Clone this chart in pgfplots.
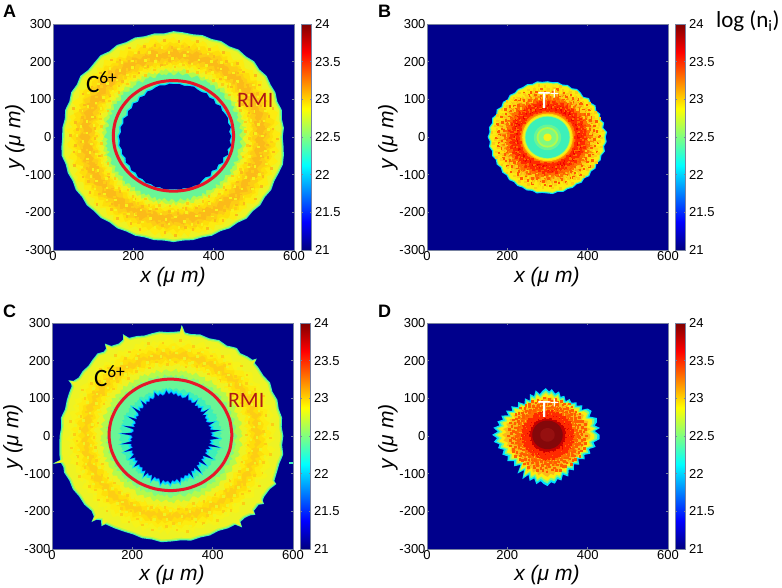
\documentclass[border=0pt]{standalone}
\usepackage{fontspec}
\setmainfont{Liberation Sans}
\newfontfamily\carl{Carlito}
\usepackage{pgfplots}
\usepackage{pgfplotstable}
\pgfplotsset{compat=1.18}

% colours read off the jet scale, named by log value
\definecolor{j21}{RGB}{0,0,140}
\definecolor{j2170}{RGB}{0,110,255}
\definecolor{j2200}{RGB}{0,225,255}
\definecolor{j2225}{RGB}{60,240,185}
\definecolor{j2240}{RGB}{105,245,150}
\definecolor{j2250}{RGB}{128,250,128}
\definecolor{j2265}{RGB}{179,250,77}
\definecolor{yel}{RGB}{238,243,35}
\definecolor{j2285}{RGB}{246,243,25}
\definecolor{j2290}{RGB}{253,236,15}
\definecolor{j2300}{RGB}{254,222,10}
\definecolor{j2305}{RGB}{253,205,20}
\definecolor{j2310}{RGB}{251,186,25}
\definecolor{j2320}{RGB}{255,140,0}
\definecolor{j2328}{RGB}{255,112,0}
\definecolor{j2335}{RGB}{255,93,0}
\definecolor{j2350}{RGB}{255,42,0}
\definecolor{j2365}{RGB}{240,0,0}
\definecolor{j2380}{RGB}{195,0,0}
\definecolor{j2395}{RGB}{132,8,10}
\definecolor{j2399}{RGB}{150,16,16}
\definecolor{ringred}{RGB}{230,22,42}
\definecolor{rmi}{RGB}{176,24,24}
\definecolor{frame}{RGB}{120,130,160}

\newcommand{\tickfont}{\fontsize{13}{13}\selectfont}
\newcommand{\lab}{\fontsize{21}{21}\selectfont\itshape}

% boundaries as angle (deg) / radius (um) around the ring centre
\pgfplotstableread[row sep=\\]{a r\\
0 272\\5 276\\10 274\\15 279\\20 275\\25 280\\30 279\\35 283\\40 279\\45 284\\50 280\\55 283\\60 278\\65 281\\70 277\\75 280\\80 277\\85 279\\90 281\\95 276\\100 279\\105 277\\110 281\\115 278\\120 282\\125 278\\130 283\\135 279\\140 277\\145 283\\150 278\\155 281\\160 276\\165 279\\170 275\\175 278\\180 277\\185 280\\190 283\\195 278\\200 280\\205 277\\210 281\\215 278\\220 282\\225 279\\230 281\\235 277\\240 280\\245 277\\250 279\\255 276\\260 278\\265 276\\270 279\\275 276\\280 278\\285 276\\290 279\\295 276\\300 280\\305 278\\310 283\\315 279\\320 282\\325 278\\330 281\\335 277\\340 279\\345 282\\350 279\\355 275\\
}\Aout
\pgfplotstableread[row sep=\\]{a r\\
0 141\\5 136\\10 142\\15 137\\20 141\\25 139\\30 136\\35 140\\40 133\\45 138\\50 134\\55 139\\60 135\\65 136\\70 140\\75 138\\80 136\\85 139\\90 138\\95 140\\100 137\\105 140\\110 138\\115 135\\120 137\\125 131\\130 135\\135 129\\140 135\\145 130\\150 134\\155 129\\160 136\\165 132\\170 137\\175 134\\180 139\\185 137\\190 140\\195 136\\200 139\\205 135\\210 140\\215 136\\220 141\\225 137\\230 142\\235 139\\240 143\\245 140\\250 143\\255 140\\260 144\\265 141\\270 140\\275 142\\280 139\\285 143\\290 140\\295 142\\300 136\\305 133\\310 138\\315 130\\320 136\\325 132\\330 139\\335 133\\340 142\\345 136\\350 143\\355 137\\
}\Ahole
\pgfplotstableread[row sep=\\]{a r\\
0 279\\5 276\\10 280\\15 277\\20 281\\25 278\\30 284\\35 280\\40 283\\43 284\\44 296\\45 286\\48 284\\52 279\\55 285\\57 282\\60 277\\65 281\\70 276\\75 279\\80 275\\83 277\\84.5 292\\85 296\\85.5 279\\88 277\\92 276\\96 279\\100 277\\104 275\\108 279\\112 281\\114 296\\115 283\\118 278\\122 282\\124 296\\125 283\\127 280\\130 286\\134 282\\138 278\\142 280\\146 278\\149 284\\150 296\\151 285\\152 281\\156 279\\160 277\\165 274\\170 279\\175 275\\180 278\\185 280\\190 283\\193 284\\194 305\\194.5 284\\197 281\\200 284\\205 280\\210 283\\215 280\\220 283\\225 281\\228 288\\229 303\\230 290\\232 284\\234 296\\235 286\\240 283\\245 280\\250 278\\255 281\\260 279\\265 283\\270 280\\275 278\\280 282\\285 279\\290 281\\295 278\\300 283\\304 284\\306 300\\307 286\\310 284\\313 288\\315 296\\316 286\\320 284\\322 293\\323 285\\325 282\\330 283\\334 291\\335 283\\340 280\\345 279\\350 283\\355 277\\
}\Cout
\pgfplotstableread[row sep=\\]{a r\\
0 100\\3 104\\5 98\\7 125\\8 110\\10 99\\13 103\\16 97\\19 115\\20 103\\23 95\\26 100\\29 97\\32 104\\35 96\\37 118\\38 104\\41 98\\44 107\\47 100\\50 104\\53 99\\55 116\\56 106\\59 102\\62 107\\65 104\\68 118\\70 108\\74 104\\77 110\\80 106\\83 113\\86 109\\89 116\\92 110\\95 120\\97 112\\100 108\\103 114\\106 109\\109 121\\111 110\\114 106\\117 112\\120 104\\123 108\\126 102\\128 118\\130 104\\133 100\\136 106\\139 98\\141 121\\143 100\\146 95\\149 99\\152 94\\154 116\\156 96\\159 92\\162 96\\165 91\\167 119\\169 94\\172 92\\175 96\\177 123\\179 97\\182 94\\185 99\\188 96\\190 124\\192 99\\195 101\\198 98\\200 122\\202 101\\205 105\\208 102\\211 117\\213 104\\216 108\\219 104\\222 121\\224 107\\227 111\\230 108\\233 116\\236 110\\238 126\\240 112\\243 117\\246 112\\248 127\\250 114\\253 118\\256 115\\259 129\\261 117\\264 122\\267 118\\270 126\\272 117\\275 120\\278 114\\281 125\\283 112\\286 116\\289 109\\292 113\\295 107\\297 123\\299 105\\302 109\\305 102\\308 124\\310 100\\313 104\\316 97\\319 118\\321 97\\324 101\\327 95\\330 121\\332 96\\335 99\\338 94\\341 104\\344 96\\346 126\\348 98\\351 102\\354 97\\357 120\\
}\Chole
\pgfplotstableread[row sep=\\]{a r\\
0 145\\5 149\\10 141\\15 146\\20 139\\25 145\\30 140\\35 146\\40 141\\45 146\\50 139\\55 144\\60 147\\65 143\\70 147\\75 144\\80 148\\85 146\\90 148\\95 147\\100 150\\105 146\\110 149\\115 146\\120 147\\125 143\\130 146\\135 141\\140 145\\145 140\\150 146\\155 141\\160 147\\165 143\\170 148\\175 145\\180 149\\185 144\\190 148\\195 143\\200 147\\205 142\\210 146\\215 142\\220 147\\225 144\\230 149\\235 146\\240 150\\245 148\\250 151\\255 148\\260 152\\265 149\\270 150\\275 152\\280 148\\285 151\\290 147\\295 149\\300 145\\305 148\\310 143\\315 147\\320 142\\325 146\\330 141\\335 146\\340 143\\345 148\\350 143\\355 148\\
}\Bout
\pgfplotstableread[row sep=\\]{a r\\
0 130\\5 118\\8 132\\12 120\\15 127\\20 131\\25 115\\30 127\\35 122\\38 108\\42 117\\47 106\\50 113\\55 104\\60 110\\63 100\\68 112\\72 106\\76 119\\80 111\\85 122\\88 115\\92 124\\96 118\\100 110\\104 122\\108 108\\112 117\\116 101\\120 112\\125 100\\130 114\\135 104\\140 118\\144 108\\148 122\\152 110\\156 126\\160 118\\164 130\\168 122\\172 136\\176 124\\180 138\\184 126\\188 135\\192 122\\196 128\\200 116\\205 124\\210 114\\215 122\\220 108\\225 118\\230 104\\234 127\\238 110\\242 133\\246 116\\250 130\\254 120\\258 134\\262 124\\266 131\\270 136\\274 126\\278 131\\282 120\\286 126\\290 112\\295 122\\300 106\\305 115\\310 102\\315 112\\320 100\\325 113\\330 106\\335 118\\340 110\\345 124\\350 116\\355 130\\
}\Dout
% rough band edge, radius in percent of the band's mean radius
\pgfplotstableread[row sep=\\]{a r\\
0 100\\2 102\\4 99\\6 98\\8 101\\10 103\\12 100\\14 97\\16 99\\18 102\\20 101\\22 98\\24 100\\26 103\\28 99\\30 97\\32 101\\34 102\\36 98\\38 100\\40 99\\42 103\\44 101\\46 97\\48 98\\50 102\\52 100\\54 101\\56 99\\58 97\\60 102\\62 103\\64 99\\66 100\\68 98\\70 101\\72 97\\74 99\\76 103\\78 100\\80 102\\82 98\\84 97\\86 101\\88 99\\90 103\\92 100\\94 98\\96 102\\98 97\\100 101\\102 99\\104 100\\106 103\\108 98\\110 97\\112 102\\114 100\\116 99\\118 101\\120 103\\122 97\\124 100\\126 98\\128 102\\130 99\\132 101\\134 97\\136 103\\138 100\\140 98\\142 99\\144 102\\146 101\\148 97\\150 100\\152 103\\154 98\\156 101\\158 99\\160 97\\162 102\\164 100\\166 103\\168 98\\170 99\\172 101\\174 97\\176 102\\178 100\\180 98\\182 103\\184 99\\186 101\\188 97\\190 100\\192 102\\194 98\\196 103\\198 99\\200 101\\202 97\\204 100\\206 102\\208 98\\210 99\\212 103\\214 101\\216 97\\218 100\\220 102\\222 98\\224 103\\226 99\\228 97\\230 101\\232 100\\234 102\\236 98\\238 103\\240 97\\242 99\\244 101\\246 100\\248 102\\250 97\\252 103\\254 98\\256 100\\258 101\\260 99\\262 97\\264 102\\266 103\\268 98\\270 100\\272 99\\274 101\\276 97\\278 102\\280 103\\282 99\\284 100\\286 98\\288 97\\290 101\\292 103\\294 100\\296 98\\298 102\\300 99\\302 97\\304 101\\306 103\\308 98\\310 100\\312 102\\314 99\\316 97\\318 101\\320 100\\322 103\\324 98\\326 97\\328 102\\330 99\\332 101\\334 103\\336 100\\338 97\\340 98\\342 102\\344 101\\346 99\\348 103\\350 97\\352 100\\354 102\\356 98\\358 101\\
}\Nrough
% streaky edge for the T+ blobs, same idea with more amplitude
\pgfplotstableread[row sep=\\]{a r\\
0 92\\2 108\\4 97\\6 115\\8 88\\10 103\\12 110\\14 94\\16 85\\18 106\\20 99\\22 113\\24 90\\26 102\\28 116\\30 95\\32 87\\34 109\\36 104\\38 92\\40 112\\42 86\\44 100\\46 107\\48 93\\50 114\\52 89\\54 105\\56 98\\58 111\\60 85\\62 103\\64 95\\66 116\\68 90\\70 108\\72 101\\74 87\\76 113\\78 96\\80 106\\82 91\\84 115\\86 99\\88 86\\90 110\\92 104\\94 93\\96 112\\98 88\\100 107\\102 97\\104 116\\106 85\\108 102\\110 94\\112 109\\114 90\\116 114\\118 100\\120 87\\122 105\\124 96\\126 111\\128 92\\130 103\\132 115\\134 86\\136 108\\138 98\\140 89\\142 113\\144 101\\146 94\\148 106\\150 85\\152 116\\154 91\\156 104\\158 99\\160 110\\162 88\\164 107\\166 95\\168 114\\170 87\\172 102\\174 109\\176 93\\178 112\\180 90\\182 105\\184 85\\186 115\\188 97\\190 103\\192 92\\194 111\\196 88\\198 108\\200 100\\202 86\\204 113\\206 95\\208 106\\210 90\\212 116\\214 98\\216 87\\218 104\\220 110\\222 93\\224 101\\226 114\\228 85\\230 107\\232 96\\234 112\\236 89\\238 103\\240 115\\242 91\\244 100\\246 86\\248 109\\250 94\\252 105\\254 113\\256 88\\258 97\\260 116\\262 90\\264 102\\266 107\\268 85\\270 111\\272 95\\274 104\\276 87\\278 114\\280 92\\282 99\\284 108\\286 86\\288 112\\290 96\\292 103\\294 89\\296 115\\298 93\\300 106\\302 85\\304 110\\306 101\\308 91\\310 116\\312 88\\314 105\\316 97\\318 113\\320 86\\322 102\\324 109\\326 94\\328 90\\330 114\\332 100\\334 87\\336 107\\338 96\\340 112\\342 85\\344 104\\346 92\\348 115\\350 98\\352 89\\354 110\\356 103\\358 94\\
}\Kstreak
\pgfplotstableread[row sep=\\]{a r\\
0 1\\10 1\\20 1\\30 1\\40 1\\50 1\\60 1\\70 1\\80 1\\90 1\\100 1\\110 1\\120 1\\130 1\\140 1\\150 1\\160 1\\170 1\\180 1\\190 1\\200 1\\210 1\\220 1\\230 1\\240 1\\250 1\\260 1\\270 1\\280 1\\290 1\\300 1\\310 1\\320 1\\330 1\\340 1\\350 1\\
}\Unit

% \layer[rotation]{colour}{table}{cx}{cy}{factor}
\newcommand{\layer}[6][0]{\addplot[draw=none,fill=#2] table[x expr={#4+#6*\thisrow{r}*cos(\thisrow{a}+#1)},y expr={#5+#6*\thisrow{r}*sin(\thisrow{a}+#1)}] {#3};}
% \speck[rotation]{colour}{cx}{cy}{factor}: mottling of the density
\newcommand{\speck}[5][0]{\addplot[color=#2,only marks,mark=square*,mark size=.8pt] table[x expr={#3+#5*\thisrow{r}*cos(\thisrow{a}+#1)},y expr={#4+#5*\thisrow{r}*sin(\thisrow{a}+#1)}] {\Kstreak};}

\pgfplotsset{panel/.style={
  scale only axis, width=241pt, height=226pt,
  xmin=0, xmax=600, ymin=-300, ymax=300,
  xtick={0,200,400,600}, ytick={-300,-200,-100,0,100,200,300},
  xticklabels={0,200,400,600},
  yticklabels={-300,-200,-100,0,100,200,300},
  tick align=inside, major tick length=2pt,
  tick style={frame,line width=.4pt},
  axis line style={frame,line width=.5pt},
  tick label style={font=\tickfont},
  xticklabel style={yshift=2pt}, yticklabel style={xshift=2pt},
  axis background/.style={fill=j21}, axis on top,
  colormap/jet, point meta min=21, point meta max=24,
  colorbar,
  colorbar style={
    width=10pt, xshift=-15pt,
    ytick={21,21.5,22,22.5,23,23.5,24},
    yticklabels={21,21.5,22,22.5,23,23.5,24},
    tick align=inside, major tick length=1.5pt,
    tick label style={font=\tickfont},
    yticklabel style={xshift=0pt},
    axis line style={frame,line width=.5pt}},
}}

\begin{document}
\begin{tikzpicture}
\path[use as bounding box] (0,0) rectangle (782pt,588pt);

% A
\begin{axis}[panel, anchor=south west, at={(53pt,338pt)}]
\layer{j2225}{\Aout}{300}{0}{1}
\layer{j2265}{\Aout}{300}{0}{.99}
\layer{yel}{\Aout}{300}{0}{.975}
\layer[40]{j2290}{\Nrough}{300}{0}{2.6}
\layer[90]{j2300}{\Nrough}{300}{0}{2.48}
\layer[130]{j2305}{\Nrough}{300}{0}{2.38}
\layer[170]{j2310}{\Nrough}{300}{0}{2.28}
\layer[210]{j2305}{\Nrough}{300}{0}{2.08}
\layer[250]{j2300}{\Nrough}{300}{0}{2}
\layer[290]{j2290}{\Nrough}{300}{0}{1.93}
\speck[11]{j2310}{300}{0}{2.25}
\speck[47]{j2285}{300}{0}{2.1}
\speck[97]{j2305}{300}{0}{2.1}
\layer[330]{yel}{\Nrough}{300}{0}{1.86}
\layer[20]{j2265}{\Nrough}{300}{0}{1.77}
\layer[60]{j2240}{\Nrough}{300}{0}{1.68}
\layer{j2200}{\Ahole}{303}{2}{1.03}
\layer{j21}{\Ahole}{303}{2}{1}
\addplot[ringred,line width=3pt,smooth] coordinates {(450,3)(444.9,41)(429.9,76.5)(406.1,106.9)(375,130.3)(338.8,145)(300,150)(261.2,145)(225,130.3)(193.9,106.9)(170.1,76.5)(155.1,41)(150,3)(155.1,-35)(170.1,-70.5)(193.9,-100.9)(225,-124.3)(261.2,-139)(300,-144)(338.8,-139)(375,-124.3)(406.1,-100.9)(429.9,-70.5)(444.9,-35)(450,3)};
\end{axis}

% B
\begin{axis}[panel, anchor=south west, at={(427pt,338pt)}]
\layer{j2200}{\Bout}{300}{0}{1}
\layer{j2265}{\Bout}{300}{0}{.98}
\layer{j2290}{\Bout}{300}{0}{.96}
\layer{j2300}{\Kstreak}{300}{0}{1.22}
\layer[50]{j2310}{\Kstreak}{300}{0}{1.16}
\layer[100]{j2320}{\Kstreak}{300}{0}{1.08}
\layer[150]{j2335}{\Kstreak}{300}{0}{1}
\layer[200]{j2350}{\Kstreak}{300}{0}{.93}
\layer[250]{j2365}{\Kstreak}{300}{0}{.83}
\speck[13]{j2335}{300}{0}{1.12}
\speck[71]{j2305}{300}{0}{1.2}
\speck[29]{j2328}{300}{0}{.92}
\speck[131]{j2350}{300}{0}{.82}
\layer{j2350}{\Unit}{300}{-1}{74}
\layer{j2328}{\Unit}{300}{-1}{70}
\layer{j2320}{\Unit}{300}{-1}{66}
\layer{j2300}{\Unit}{300}{-1}{63}
\layer{j2285}{\Unit}{300}{-1}{60}
\layer{j2265}{\Unit}{300}{-1}{57}
\layer{j2225}{\Unit}{300}{-1}{55}
\layer{j2240}{\Unit}{300}{-1}{34}
\layer{j2265}{\Unit}{300}{-1}{27}
\layer{j2250}{\Unit}{300}{-1}{22}
\layer{j2285}{\Unit}{300}{-1}{10}
\end{axis}

% C
\begin{axis}[panel, anchor=south west, at={(52pt,39pt)}]
\layer{j2225}{\Cout}{297}{0}{1}
\layer{j2265}{\Cout}{297}{0}{.99}
\layer{yel}{\Cout}{297}{0}{.975}
\layer[30]{j2285}{\Nrough}{297}{0}{2.55}
\layer[70]{j2290}{\Nrough}{297}{0}{2.42}
\layer[110]{j2300}{\Nrough}{297}{0}{2.3}
\layer[150]{j2305}{\Nrough}{297}{0}{2.2}
\layer[190]{j2300}{\Nrough}{297}{0}{2.07}
\layer[230]{j2290}{\Nrough}{297}{0}{1.97}
\speck[19]{j2305}{297}{0}{2.2}
\speck[77]{yel}{297}{0}{2.15}
\layer[270]{yel}{\Nrough}{297}{0}{1.88}
\layer[310]{j2265}{\Nrough}{297}{0}{1.74}
\layer[350]{j2250}{\Nrough}{297}{0}{1.6}
\layer[25]{j2240}{\Nrough}{295}{0}{1.5}
\layer[65]{j2225}{\Nrough}{295}{0}{1.25}
\layer{j2200}{\Chole}{295}{0}{1.07}
\layer{j2170}{\Chole}{295}{0}{1.02}
\layer{j21}{\Chole}{295}{0}{1}
\addplot[draw=none,fill=j2225] coordinates {(591,-70)(600,-70)(600,-75)(591,-75)};
\addplot[ringred,line width=3pt,smooth] coordinates {(448,3)(442.8,41.3)(427.5,77)(403.2,107.7)(371.5,131.2)(334.6,146)(295,151)(255.4,146)(218.5,131.2)(186.8,107.7)(162.5,77)(147.2,41.3)(142,3)(147.2,-35.3)(162.5,-71)(186.8,-101.7)(218.5,-125.2)(255.4,-140)(295,-145)(334.6,-140)(371.5,-125.2)(403.2,-101.7)(427.5,-71)(442.8,-35.3)(448,3)};
\end{axis}

% D
\begin{axis}[panel, anchor=south west, at={(427pt,39pt)}]
\layer{j2200}{\Dout}{300}{3}{1}
\layer{j2250}{\Dout}{300}{3}{.95}
\layer{j2290}{\Dout}{300}{3}{.9}
\layer{j2310}{\Dout}{300}{3}{.82}
\layer[30]{j2320}{\Kstreak}{300}{3}{.84}
\layer[100]{j2335}{\Kstreak}{300}{3}{.76}
\layer[170]{j2350}{\Kstreak}{300}{3}{.68}
\layer[240]{j2365}{\Kstreak}{300}{3}{.58}
\layer[310]{j2380}{\Kstreak}{300}{3}{.46}
\speck[13]{j2310}{300}{3}{.78}
\speck[71]{j2328}{300}{3}{.64}
\speck[131]{j2350}{300}{3}{.55}
\speck[29]{j2335}{300}{3}{.85}
\layer{j2395}{\Unit}{300}{3}{38}
\layer{j2399}{\Unit}{300}{3}{18}
\end{axis}

% panel letters and annotations, positions in image pixels from the bottom left
\begin{scope}[every node/.style={inner sep=0pt,outer sep=0pt}]
\node[anchor=base west,font=\fontsize{18}{18}\selectfont\bfseries] at (3pt,570pt) {A};
\node[anchor=base west,font=\fontsize{18}{18}\selectfont\bfseries] at (378pt,570pt) {B};
\node[anchor=base west,font=\fontsize{18}{18}\selectfont\bfseries] at (3pt,270pt) {C};
\node[anchor=base west,font=\fontsize{18}{18}\selectfont\bfseries] at (378pt,270pt) {D};

\node[anchor=base west,font=\carl\fontsize{23}{23}\selectfont] at (716pt,560pt) {log (n\textsubscript{i})};

\foreach \px/\py in {173/311, 547/311, 172/13, 547/13} {
  \node[font=\lab] at (\px pt,\py pt) {x (μ m)};
}
\foreach \lx/\ly in {15/451, 388/451, 13/151, 388/151} {
  \node[font=\lab,rotate=90] at (\lx pt,\ly pt) {y (μ m)};
}

\node[anchor=base west,font=\carl\fontsize{25}{25}\selectfont] at (86pt,495pt) {C\textsuperscript{6+}};
\node[anchor=base west,font=\carl\fontsize{25}{25}\selectfont] at (94pt,201pt) {C\textsuperscript{6+}};
\node[anchor=base west,font=\carl\fontsize{22}{22}\selectfont,text=rmi] at (237pt,480pt) {RMI};
\node[anchor=base west,font=\carl\fontsize{22}{22}\selectfont,text=rmi] at (228pt,180pt) {RMI};
\node[anchor=base west,font=\carl\fontsize{25}{25}\selectfont,text=white] at (538pt,479pt) {T\textsuperscript{+}};
\node[anchor=base west,font=\carl\fontsize{25}{25}\selectfont,text=white] at (538pt,170pt) {T\textsuperscript{+}};
\end{scope}
\end{tikzpicture}
\end{document}
